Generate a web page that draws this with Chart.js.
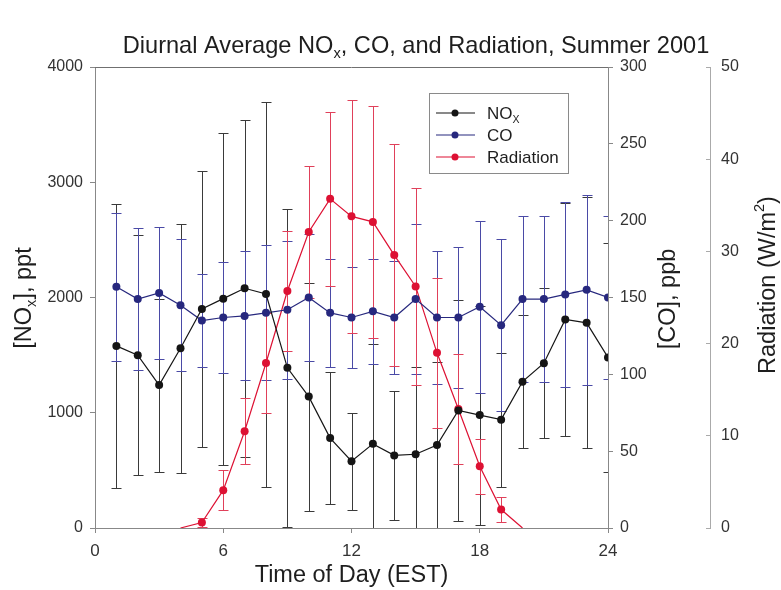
<!DOCTYPE html>
<html>
<head>
<meta charset="utf-8">
<script src="https://cdn.jsdelivr.net/npm/chart.js@4.4.1/dist/chart.umd.min.js"></script>
<style>
  html, body { margin: 0; padding: 0; background: #fff; }
  #wrap { width: 781px; height: 590px; }
</style>
</head>
<body>
<div id="wrap"><canvas id="chart" width="781" height="590"></canvas></div>
<script>
// ── Data ──────────────────────────────────────────────────────────
const hours  = [1, 2, 3, 4, 5, 6, 7, 8, 9, 10, 11, 12, 13, 14, 15, 16, 17, 18, 19, 20, 21, 22, 23, 24];
const nox    = [1580, 1500, 1240, 1560, 1900, 1990, 2080, 2030, 1390, 1140, 780, 580, 730, 630, 640, 720, 1020, 980, 940, 1270, 1430, 1810, 1780, 1480];
const noxErr = [1230, 1040, 750, 1080, 1200, 1440, 1460, 1670, 1380, 990, 570, 420, 870, 560, 760, 720, 960, 950, 580, 580, 650, 1010, 1090, 990];
const co     = [157, 149, 153, 145, 135, 137, 138, 140, 142, 150, 140, 137, 141, 137, 149, 137, 137, 144, 132, 149, 149, 152, 155, 150];
const coErr  = [48, 46, 43, 43, 30, 36, 42, 44, 45, 41, 35, 33, 34, 37, 49, 43, 46, 56, 56, 54, 54, 60, 62, 53];
const rad    = [null, null, null, 0, 0.6, 4.1, 10.5, 17.9, 25.7, 32.1, 35.7, 33.8, 33.2, 29.6, 26.2, 19.0, 12.9, 6.7, 2.0, 0, null, null, null, null];
const radErr = [null, null, null, 0, 0.5, 2.2, 3.6, 5.4, 6.5, 7.2, 9.4, 12.6, 12.6, 12.0, 10.7, 8.1, 6.0, 3.0, 1.4, 0, null, null, null, null];

const xTicks = [0, 6, 12, 18, 24];

const FONT = "'Liberation Sans', Arial, Helvetica, sans-serif";
const C_NOX = '#151515', C_NOX_ERR = '#3a3a3a';
const C_CO  = '#27287e', C_CO_ERR  = '#4a4aa6';
const C_RAD = '#dd1133', C_RAD_ERR = '#e0405a';

const pts = (ys) => hours.map((h, i) => ({ x: h, y: ys[i] }));

// ── Error bars, drawn through each dataset's own y scale ──────────
const errorBars = {
  id: 'errorBars',
  beforeDatasetsDraw(chart) {
    const { ctx, chartArea: a } = chart;
    const xs = chart.scales.x;
    ctx.save();
    ctx.beginPath();
    ctx.rect(a.left, a.top - 1, a.right - a.left, a.bottom - a.top + 1);
    ctx.clip();
    chart.data.datasets.forEach(ds => {
      const ys = chart.scales[ds.yAxisID];
      ctx.strokeStyle = ds.errorColor;
      ctx.lineWidth = 1;
      ds.data.forEach((p, i) => {
        const e = ds.errors[i];
        if (p.y == null || !e) return;
        const x = Math.round(xs.getPixelForValue(p.x)) + 0.5;
        const yt = Math.round(ys.getPixelForValue(p.y + e)) + 0.5;
        const yb = Math.round(ys.getPixelForValue(p.y - e)) + 0.5;
        ctx.beginPath();
        ctx.moveTo(x, yt); ctx.lineTo(x, yb);
        ctx.moveTo(x - 5, yt); ctx.lineTo(x + 5, yt);
        ctx.moveTo(x - 5, yb); ctx.lineTo(x + 5, yb);
        ctx.stroke();
      });
    });
    ctx.restore();
  }
};

// ── Text with sub/superscripts ────────────────────────────────────
function richWidth(ctx, parts, size) {
  let w = 0;
  parts.forEach(p => {
    ctx.font = `${p.s ? size * 0.62 : size}px ${FONT}`;
    w += ctx.measureText(p.t).width;
  });
  return w;
}
function drawRich(ctx, parts, x, y, size, align) {
  ctx.textBaseline = 'alphabetic';
  ctx.textAlign = 'left';
  let cx = align === 'center' ? x - richWidth(ctx, parts, size) / 2 : x;
  parts.forEach(p => {
    const s = p.s ? size * 0.62 : size;
    ctx.font = `${s}px ${FONT}`;
    const dy = p.s === 'sub' ? size * 0.22 : p.s === 'sup' ? -size * 0.45 : 0;
    ctx.fillText(p.t, cx, y + dy);
    cx += ctx.measureText(p.t).width;
  });
}

// ── Frame, titles and legend ──────────────────────────────────────
const decorations = {
  id: 'decorations',
  afterDraw(chart) {
    const { ctx, chartArea: a } = chart;
    ctx.save();
    // top edge of the plot box
    ctx.strokeStyle = '#707070';
    ctx.lineWidth = 1;
    ctx.beginPath();
    ctx.moveTo(a.left, a.top + 0.5); ctx.lineTo(a.right, a.top + 0.5);
    ctx.stroke();

    ctx.fillStyle = '#1e1e1e';
    drawRich(ctx, [{ t: 'Diurnal Average NO' }, { t: 'x', s: 'sub' }, { t: ', CO, and Radiation, Summer 2001' }],
      416, 53, 23.6, 'center');
    drawRich(ctx, [{ t: 'Time of Day (EST)' }], (a.left + a.right) / 2, 582, 23.5, 'center');

    const vTitle = (parts, x, y) => {
      ctx.save();
      ctx.translate(x, y);
      ctx.rotate(-Math.PI / 2);
      drawRich(ctx, parts, 0, 0, 23.5, 'center');
      ctx.restore();
    };
    vTitle([{ t: '[NO' }, { t: 'x', s: 'sub' }, { t: '], ppt' }], 31, 298);
    vTitle([{ t: '[CO], ppb' }], 675, 299);
    vTitle([{ t: 'Radiation (W/m' }, { t: '2', s: 'sup' }, { t: ')' }], 775, 285);

    // legend
    const lx = 429, ly = 93, lw = 139, lh = 80;
    ctx.fillStyle = '#fff';
    ctx.fillRect(lx, ly, lw, lh);
    ctx.strokeStyle = '#8a8a8a';
    ctx.strokeRect(lx + 0.5, ly + 0.5, lw, lh);
    const items = [
      { c: C_NOX, parts: [{ t: 'NO' }, { t: 'X', s: 'sub' }] },
      { c: C_CO,  parts: [{ t: 'CO' }] },
      { c: C_RAD, parts: [{ t: 'Radiation' }] }
    ];
    items.forEach((it, i) => {
      const y = 113 + i * 22;
      ctx.strokeStyle = it.c;
      ctx.lineWidth = 1.2;
      ctx.beginPath(); ctx.moveTo(436, y); ctx.lineTo(475, y); ctx.stroke();
      ctx.fillStyle = it.c;
      ctx.beginPath(); ctx.arc(455, y, 3.5, 0, Math.PI * 2); ctx.fill();
      ctx.fillStyle = '#1e1e1e';
      drawRich(ctx, it.parts, 487, y + 6, 17, 'left');
    });
    ctx.restore();
  }
};

// ── Chart ─────────────────────────────────────────────────────────
const tickFont = { family: FONT, size: 16 };
const plain = v => String(v);

new Chart(document.getElementById('chart'), {
  type: 'line',
  data: {
    datasets: [
      {
        label: 'NOx', data: pts(nox), errors: noxErr, errorColor: C_NOX_ERR, yAxisID: 'yN',
        borderColor: C_NOX, backgroundColor: C_NOX, borderWidth: 1.2,
        pointRadius: 4, pointBorderWidth: 0, tension: 0
      },
      {
        label: 'CO', data: pts(co), errors: coErr, errorColor: C_CO_ERR, yAxisID: 'yC',
        borderColor: C_CO, backgroundColor: C_CO, borderWidth: 1.2,
        pointRadius: 4, pointBorderWidth: 0, tension: 0
      },
      {
        label: 'Radiation', data: pts(rad), errors: radErr, errorColor: C_RAD_ERR, yAxisID: 'yR',
        borderColor: C_RAD, backgroundColor: C_RAD, borderWidth: 1.2,
        pointRadius: ctx => (ctx.raw && ctx.raw.y > 0 ? 4 : 0), pointBorderWidth: 0, tension: 0,
        spanGaps: false
      }
    ]
  },
  options: {
    responsive: false,
    animation: false,
    layout: { padding: { top: 67, left: 0, right: 0, bottom: 0 } },
    plugins: { legend: { display: false }, tooltip: { enabled: false }, title: { display: false } },
    scales: {
      x: {
        type: 'linear', position: 'bottom', min: 0, max: 24,
        afterBuildTicks: s => { s.ticks = xTicks.map(v => ({ value: v })); },
        ticks: { font: { family: FONT, size: 17 }, color: '#333', padding: 8, maxRotation: 0, callback: plain },
        grid: { drawOnChartArea: false, drawTicks: true, tickLength: 5, color: '#888' },
        border: { color: '#888' },
        afterFit: s => { s.height = 62; }
      },
      yN: {
        position: 'left', min: 0, max: 4000,
        ticks: { stepSize: 1000, font: tickFont, color: '#333', padding: 7, callback: plain },
        grid: { drawOnChartArea: false, drawTicks: true, tickLength: 5, color: '#888' },
        border: { color: '#888' },
        afterFit: s => { s.width = 95; }
      },
      yC: {
        position: 'right', weight: 0, min: 0, max: 300,
        ticks: { stepSize: 50, font: tickFont, color: '#333', padding: 7, callback: plain },
        grid: { drawOnChartArea: false, drawTicks: true, tickLength: 5, color: '#888' },
        border: { color: '#888' },
        afterFit: s => { s.width = 102; }
      },
      yR: {
        position: 'right', weight: 1, min: 0, max: 50,
        ticks: { stepSize: 10, font: tickFont, color: '#333', padding: 15, callback: plain },
        grid: { drawOnChartArea: false, drawTicks: true, tickLength: -4, color: '#aaa' },
        border: { color: '#aaa' },
        afterFit: s => { s.width = 71; }
      }
    }
  },
  plugins: [errorBars, decorations]
});
</script>
</body>
</html>
